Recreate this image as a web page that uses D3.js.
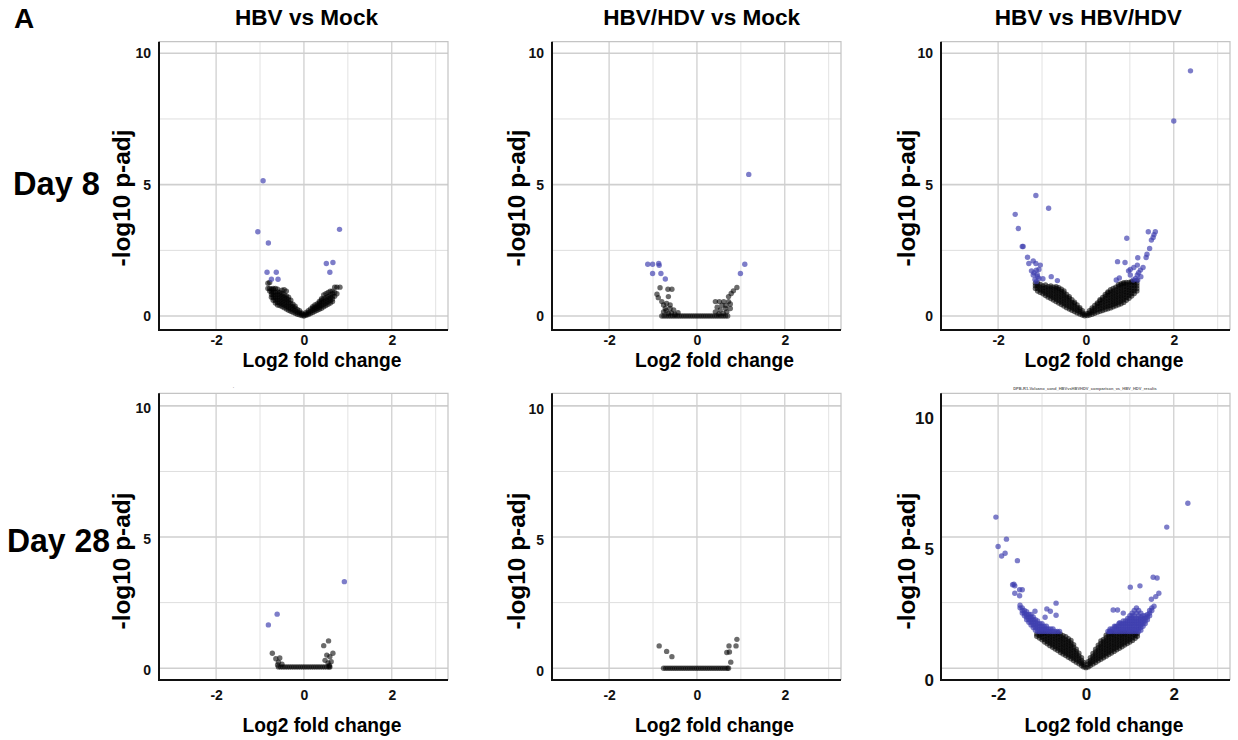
<!DOCTYPE html>
<html lang="en">
<head>
  <meta charset="UTF-8">
  <title>Volcano plots, Day 8 / Day 28</title>
  <style>
    body { margin: 0; background: #fff; }
    text { font-family: "Liberation Sans", Arial, sans-serif; font-weight: bold; }
  </style>
</head>
<body>
  <svg id="svg" width="1238" height="740"></svg>

  <script src="https://d3js.org/d3.v7.min.js"></script>
  <script>
    const panelTitles = ['HBV vs Mock', 'HBV/HDV vs Mock', 'HBV vs HBV/HDV']
    const rowLabels = ['Day 8', 'Day 28']
    const xTicks = [-2, 0, 2]
    const yTicks = [0, 5, 10]
    const xGridMajor = [-2, 0, 2]
    const xGridMinor = [-1, 1, 3]
    const yGridMajor = [0, 5, 10]
    const yGridMinor = [2.5, 7.5]

    // each entry: [log2 fold change, [-log10 p-adj values at that fold change]]
    // Day 8, HBV vs Mock
    const d8HbvMockSig = [[-0.93,[5.15]],[-1.05,[3.21]],[-0.81,[2.78]],[-0.84,[1.67]],[-0.63,[1.67]],
      [-0.74,[1.40]],[-0.59,[1.40]],[0.81,[3.30]],[0.51,[2.00]],[0.66,[2.04]],[0.59,[1.67]]]
    const d8HbvMockNs = [[-0.82,[1.05,1.25]],[-0.78,[0.95,1.05,1.28]],[-0.74,[0.72,0.82,0.92,1.02]],
      [-0.70,[0.6,0.7,0.8,0.9,1.0,1.05]],[-0.65,[0.5,0.6,0.7,0.8,0.9,1.05]],[-0.60,[0.42,0.52,0.62,0.72,0.82,0.92,1.02]],
      [-0.55,[0.4,0.5,0.6,0.7,0.8,0.9]],[-0.50,[0.36,0.46,0.56,0.66,0.76,0.86,0.98]],[-0.45,[0.32,0.42,0.52,0.62,0.72,0.82,1.0]],
      [-0.40,[0.27,0.37,0.47,0.57,0.67,0.77,0.95]],[-0.35,[0.22,0.32,0.42,0.52,0.62,0.72]],[-0.30,[0.18,0.28,0.38,0.48,0.6]],
      [-0.25,[0.15,0.25,0.35,0.45]],[-0.20,[0.11,0.2,0.3,0.38]],[-0.15,[0.07,0.15,0.25]],[-0.10,[0.05,0.12,0.2]],
      [-0.05,[0.02,0.08,0.12]],[0,[0,0.05]],[0.05,[0.03,0.08,0.14]],[0.10,[0.06,0.12,0.2]],[0.15,[0.1,0.18,0.27]],
      [0.20,[0.14,0.22,0.3,0.36]],[0.25,[0.18,0.26,0.34,0.42]],[0.30,[0.22,0.3,0.38,0.46]],[0.35,[0.26,0.34,0.42,0.5,0.56]],
      [0.40,[0.3,0.4,0.5,0.6,0.66]],[0.45,[0.35,0.45,0.55,0.65,0.8]],[0.50,[0.4,0.5,0.6,0.7,0.85]],
      [0.55,[0.45,0.55,0.65,0.75,0.9]],[0.60,[0.5,0.6,0.7,0.8,0.95]],[0.65,[0.55,0.65,0.75,0.85,0.95]],
      [0.70,[0.75,0.9,1.1]],[0.75,[0.85,1.1]],[0.82,[1.1]]]

    // Day 8, HBV/HDV vs Mock
    const d8CoMockSig = [[1.18,[5.39]],[-1.12,[1.97]],[-1.01,[1.97,1.62]],[-0.87,[2.0]],[-0.86,[1.93]],
      [-0.82,[1.62]],[-0.72,[1.41]],[1.09,[1.97]],[0.99,[1.62]]]
    const d8CoMockNs = [[-0.91,[0.83]],[-0.88,[0.70]],[-0.84,[1.08]],[-0.80,[0.55]],[-0.76,[0.42,0.16]],
      [-0.72,[0.29]],[-0.70,[0.2]],[-0.69,[0.48]],[-0.66,[1.02]],[-0.65,[0.74,0.10]],[-0.61,[0.42,0.29]],
      [-0.58,[0.12]],[-0.57,[1.02]],[-0.53,[0.23]],[-0.50,[0.06]],[-0.43,[0.13]],
      [0.42,[0.55,0.16]],[0.46,[0.34]],[0.50,[0.08]],[0.51,[0.55]],[0.53,[0.23]],[0.57,[0.41]],[0.60,[0.1]],
      [0.61,[0.55]],[0.65,[0.29]],[0.66,[0.4]],[0.68,[0.16]],[0.72,[0.55,0.74]],[0.76,[0.46,0.29]],
      [0.78,[0.86]],[0.83,[0.96]],[0.91,[1.09]]]
    const d8CoMockFloor = [-0.80,-0.75,-0.70,-0.65,-0.60,-0.55,-0.50,-0.45,-0.40,-0.35,-0.30,-0.25,-0.20,-0.15,
      -0.10,-0.05,0,0.05,0.10,0.15,0.20,0.25,0.30,0.35,0.40,0.45,0.50,0.55,0.60,0.65,0.70]

    // Day 8, HBV vs HBV/HDV
    const d8HbvCoSig = [[2.38,[9.33]],[2.0,[7.42]],[-1.14,[4.59]],[-0.85,[4.10]],[-1.61,[3.87]],[-1.54,[3.33]],
      [-1.45,[2.65]],[-1.43,[2.65]],[-1.33,[2.24]],[-1.30,[2.0]],[-1.20,[2.1,1.56]],[-1.14,[2.0]],[-1.04,[1.94]],
      [-1.24,[1.72]],[-1.13,[1.75,1.31]],[-1.07,[1.77,1.43]],[-1.11,[1.58]],[-1.16,[1.39]],[-0.98,[1.42]],
      [-0.79,[1.5]],[-0.65,[1.35]],[-1.18,[1.65]],[-1.10,[1.5]],
      [0.93,[2.96]],[1.42,[3.21]],[1.58,[3.21]],[1.53,[2.99]],[1.49,[2.89]],[1.45,[2.57]],[1.39,[2.35]],
      [1.37,[2.23]],[1.18,[2.22,1.37]],[0.72,[2.07]],[0.89,[2.04]],[1.30,[1.85]],[1.17,[1.94,1.56]],[1.09,[1.85]],
      [1.01,[1.77,1.56]],[0.97,[1.72]],[1.24,[1.75]],[1.20,[1.65]],[1.13,[1.43]],[1.08,[1.37]],[0.76,[1.45]],
      [0.69,[1.37]],[1.55,[3.1]],[1.25,[1.5]]]
    const d8HbvCoNs = [[-1.15,[1.05,1.15,1.25]],[-1.10,[0.95,1.05,1.15,1.25]],[-1.04,[0.9,1.0,1.1,1.2]],
      [-0.98,[0.85,0.95,1.05,1.15]],[-0.92,[0.78,0.88,0.98,1.08,1.18]],[-0.86,[0.72,0.82,0.92,1.02,1.12]],
      [-0.80,[0.67,0.77,0.87,0.97,1.07,1.15]],[-0.74,[0.61,0.71,0.81,0.91,1.01,1.1]],
      [-0.68,[0.55,0.65,0.75,0.85,0.95,1.05,1.12]],[-0.62,[0.5,0.6,0.7,0.8,0.9,1.0,1.08]],
      [-0.56,[0.44,0.54,0.64,0.74,0.84,0.94,1.02]],[-0.50,[0.38,0.48,0.58,0.68,0.78,0.88,0.96]],
      [-0.44,[0.32,0.42,0.52,0.62,0.72,0.82]],[-0.38,[0.27,0.37,0.47,0.57,0.67,0.74]],
      [-0.32,[0.22,0.32,0.42,0.52,0.62]],[-0.26,[0.17,0.27,0.37,0.47,0.53]],[-0.20,[0.12,0.22,0.32,0.42]],
      [-0.14,[0.08,0.17,0.26,0.32]],[-0.08,[0.04,0.12,0.2]],[-0.03,[0.01,0.07]],
      [0.03,[0.02,0.1]],[0.08,[0.04,0.12,0.2]],[0.14,[0.07,0.15,0.23,0.31]],[0.20,[0.11,0.2,0.3,0.4]],
      [0.26,[0.15,0.25,0.35,0.45,0.5]],[0.32,[0.18,0.28,0.38,0.48,0.58,0.62]],[0.38,[0.21,0.31,0.41,0.51,0.61,0.71]],
      [0.44,[0.25,0.35,0.45,0.55,0.65,0.75,0.82]],[0.50,[0.28,0.38,0.48,0.58,0.68,0.78,0.88,0.92]],
      [0.56,[0.31,0.41,0.51,0.61,0.71,0.81,0.91,1.0]],[0.62,[0.35,0.45,0.55,0.65,0.75,0.85,0.95,1.05]],
      [0.68,[0.39,0.49,0.59,0.69,0.79,0.89,0.99,1.1]],[0.74,[0.43,0.53,0.63,0.73,0.83,0.93,1.03,1.13,1.2]],
      [0.80,[0.47,0.57,0.67,0.77,0.87,0.97,1.07,1.17,1.23]],[0.86,[0.52,0.62,0.72,0.82,0.92,1.02,1.12,1.22,1.27]],
      [0.92,[0.6,0.7,0.8,0.9,1.0,1.1,1.2,1.28]],[0.98,[0.68,0.78,0.88,0.98,1.08,1.18,1.28]],
      [1.04,[0.76,0.86,0.96,1.06,1.16,1.26,1.32]],[1.10,[0.86,0.96,1.06,1.16,1.26,1.33]],
      [1.16,[0.95,1.05,1.15,1.25,1.35]]]

    // Day 28, HBV vs Mock
    const d28HbvMockSig = [[0.92,[3.30]],[-0.61,[2.06]],[-0.81,[1.65]]]
    const d28HbvMockNs = [[0.56,[1.04]],[0.45,[0.86]],[0.66,[0.57]],[0.59,[0.44]],[0.52,[0.5]],[0.48,[0.3]],
      [0.55,[0.2]],[0.62,[0.25]],[0.58,[0.1]],[-0.72,[0.57]],[-0.64,[0.36]],[-0.55,[0.39]],[-0.58,[0.23]],
      [-0.60,[0.12]],[-0.50,[0.15]]]
    const d28HbvMockFloor = [-0.58,-0.53,-0.48,-0.43,-0.38,-0.33,-0.28,-0.23,-0.18,-0.13,-0.08,-0.03,0.02,
      0.07,0.12,0.17,0.22,0.27,0.32,0.37,0.42,0.47,0.52,0.57,0.59]

    // Day 28, HBV/HDV vs Mock
    const d28CoMockSig = []
    const d28CoMockNs = [[-0.86,[0.85]],[-0.69,[0.64]],[-0.57,[0.44]],[0.91,[1.1]],[0.89,[0.85]],
      [0.73,[0.85]],[0.68,[0.6]],[0.74,[0.62]],[0.77,[0.23]]]
    const d28CoMockFloor = [-0.76,-0.71,-0.66,-0.61,-0.56,-0.51,-0.46,-0.41,-0.36,-0.31,-0.26,-0.21,-0.16,
      -0.11,-0.06,-0.01,0.04,0.09,0.14,0.19,0.24,0.29,0.34,0.39,0.44,0.49,0.54,0.59,0.64,0.69,0.72]

    // Day 28, HBV vs HBV/HDV
    const d28HbvCoSig = [[-2.05,[5.76]],[-1.81,[4.92]],[-2.0,[4.64]],[-1.92,[4.28]],[-1.84,[4.38]],[-1.56,[4.10]],
      [-1.67,[3.18]],[-1.62,[3.14,2.86]],[-1.64,[3.2]],[-1.51,[2.99,2.76]],[-1.45,[2.99]],[-0.68,[2.48,2.02]],
      [-0.89,[2.26]],[-0.81,[2.17]],[-0.93,[1.94]],[-1.16,[2.17]],
      [-1.50,[2.3,2.4]],[-1.45,[2.1,2.2,2.3]],[-1.40,[2.0,2.1,2.2]],[-1.35,[1.85,1.95,2.05,2.15]],
      [-1.30,[1.75,1.85,1.95,2.05]],[-1.25,[1.65,1.75,1.85,1.95,2.05]],[-1.20,[1.55,1.65,1.75,1.85,1.95]],
      [-1.15,[1.45,1.55,1.65,1.75,1.85]],[-1.10,[1.4,1.5,1.6,1.7,1.8]],[-1.05,[1.4,1.5,1.6,1.7]],
      [-1.00,[1.4,1.5,1.6,1.7]],[-0.95,[1.4,1.5,1.6]],[-0.90,[1.4,1.5,1.6]],[-0.85,[1.4,1.5]],
      [-0.80,[1.4,1.5]],[-0.75,[1.4,1.5]],[-0.70,[1.4]],[-0.65,[1.4]],[-0.60,[1.4]],
      [2.32,[6.29]],[1.84,[5.38]],[1.53,[3.47]],[1.62,[3.44]],[1.01,[3.09]],[1.23,[3.14]],[1.66,[2.86]],
      [1.59,[2.73]],[1.49,[2.63]],[0.62,[2.22]],[0.72,[2.22]],[0.85,[2.1]],[0.77,[1.73]],[0.67,[1.58]],
      [0.54,[1.42]],[1.55,[2.36]],
      [0.50,[1.4]],[0.55,[1.4,1.5]],[0.60,[1.4,1.5]],[0.65,[1.4,1.5,1.6]],[0.70,[1.4,1.5,1.6]],
      [0.75,[1.4,1.5,1.6,1.7]],[0.80,[1.4,1.5,1.6,1.7]],[0.85,[1.4,1.5,1.6,1.7,1.8]],[0.90,[1.4,1.5,1.6,1.7,1.8]],
      [0.95,[1.4,1.5,1.6,1.7,1.8,1.9]],[1.00,[1.4,1.5,1.6,1.7,1.8,1.9,2.0]],[1.05,[1.4,1.5,1.6,1.7,1.8,1.9,2.0,2.1]],
      [1.10,[1.4,1.5,1.6,1.7,1.8,1.9,2.0,2.2]],[1.15,[1.4,1.5,1.6,1.7,1.8,1.9,2.1,2.3]],
      [1.20,[1.4,1.5,1.6,1.7,1.8,1.9,2.0,2.2]],[1.25,[1.45,1.55,1.65,1.75,1.85,1.95,2.1]],
      [1.30,[1.6,1.7,1.8,1.9,2.0]],[1.35,[1.7,1.8,1.9,2.0]],[1.40,[1.85,1.95,2.05]],[1.45,[2.0,2.1,2.2]],
      [1.50,[2.2,2.3]]]
    const d28HbvCoNs = [[-1.12,[1.22,1.3]],[-1.06,[1.15,1.25,1.33]],[-1.00,[1.08,1.18,1.28,1.35]],
      [-0.94,[1.0,1.1,1.2,1.3,1.35]],[-0.88,[0.93,1.03,1.13,1.23,1.33]],[-0.82,[0.86,0.96,1.06,1.16,1.26,1.35]],
      [-0.76,[0.8,0.9,1.0,1.1,1.2,1.3]],[-0.70,[0.73,0.83,0.93,1.03,1.13,1.23,1.33]],
      [-0.64,[0.67,0.77,0.87,0.97,1.07,1.17,1.27,1.35]],[-0.58,[0.6,0.7,0.8,0.9,1.0,1.1,1.2,1.3]],
      [-0.52,[0.54,0.64,0.74,0.84,0.94,1.04,1.14,1.24]],[-0.46,[0.48,0.58,0.68,0.78,0.88,0.98,1.08,1.2]],
      [-0.40,[0.42,0.52,0.62,0.72,0.82,0.92,1.02,1.12]],[-0.34,[0.36,0.46,0.56,0.66,0.76,0.86,0.96,1.06]],
      [-0.28,[0.29,0.39,0.49,0.59,0.69,0.8,0.9]],[-0.22,[0.23,0.33,0.43,0.53,0.63,0.72]],
      [-0.16,[0.17,0.27,0.37,0.47,0.57]],[-0.10,[0.1,0.2,0.3,0.4]],[-0.05,[0.05,0.13,0.22]],[0,[0.02]],
      [0.05,[0.05,0.15,0.25]],[0.10,[0.1,0.2,0.3,0.4]],[0.16,[0.16,0.26,0.36,0.46,0.56]],
      [0.22,[0.22,0.32,0.42,0.52,0.62,0.72]],[0.28,[0.28,0.38,0.48,0.58,0.68,0.78,0.88]],
      [0.34,[0.34,0.44,0.54,0.64,0.74,0.84,0.94,1.04]],[0.40,[0.4,0.5,0.6,0.7,0.8,0.9,1.0,1.1]],
      [0.46,[0.46,0.56,0.66,0.76,0.86,0.96,1.06,1.16,1.26]],[0.52,[0.52,0.62,0.72,0.82,0.92,1.02,1.12,1.22,1.32]],
      [0.58,[0.58,0.68,0.78,0.88,0.98,1.08,1.18,1.28,1.35]],[0.64,[0.64,0.74,0.84,0.94,1.04,1.14,1.24,1.34]],
      [0.70,[0.7,0.8,0.9,1.0,1.1,1.2,1.3]],[0.76,[0.76,0.86,0.96,1.06,1.16,1.26,1.35]],
      [0.82,[0.82,0.92,1.02,1.12,1.22,1.32]],[0.88,[0.88,0.98,1.08,1.18,1.28,1.35]],
      [0.94,[0.94,1.04,1.14,1.24,1.34]],[1.00,[1.0,1.1,1.2,1.3]],[1.06,[1.06,1.16,1.26,1.35]],
      [1.12,[1.14,1.24,1.33]],[1.17,[1.22,1.32]]]

    const flat = cols => cols.flatMap(([x, ys]) => ys.map(y => ({x, y})))

    // layout (pixels)
    const colLeft = [159, 552, 941]
    const plotW = 289
    const rows = [
      {top: 41.7, bottom: 330, yDomain: [-0.53, 10.44], tickPad: [5.5, 5.5, 5.5], titleBase: 367, yTitleY: 198},
      {top: 393.3, bottom: 680, yDomain: [-0.45, 10.48], tickPad: [10, 10, 8], titleBase: 732, yTitleY: 561}
    ]
    const titleCx = [306.5, 701.7, 1088.3]
    const titleW = [143, 197, 187]
    const xTitleCx = [322, 714.5, 1104]
    const yTitleX = [130, 525, 915]

    const panels = [
      {r: 0, c: 0, sig: d8HbvMockSig, ns: d8HbvMockNs, floor: [], fs: 14, shift: 0},
      {r: 0, c: 1, sig: d8CoMockSig, ns: d8CoMockNs, floor: d8CoMockFloor, floorY: 0, fs: 14, shift: 0},
      {r: 0, c: 2, sig: d8HbvCoSig, ns: d8HbvCoNs, floor: [], fs: 14, shift: 0},
      {r: 1, c: 0, sig: d28HbvMockSig, ns: d28HbvMockNs, floor: d28HbvMockFloor, floorY: 0.05, fs: 14, shift: 2},
      {r: 1, c: 1, sig: d28CoMockSig, ns: d28CoMockNs, floor: d28CoMockFloor, floorY: 0, fs: 14, shift: 3},
      {r: 1, c: 2, sig: d28HbvCoSig, ns: d28HbvCoNs, floor: [], fs: 17, shift: 12}
    ]

    const svg = d3.select('#svg')

    panels.forEach(p => {
      const row = rows[p.r]
      const L = colLeft[p.c]
      const R = L + plotW
      const x = d3.scaleLinear().domain([-3.3, 3.28]).range([L, R])
      const y = d3.scaleLinear().domain(row.yDomain).range([row.bottom, row.top])
      const g = svg.append('g')

      // grid
      g.selectAll('.vmin').data(xGridMinor).join('line')
        .attr('x1', d => x(d)).attr('x2', d => x(d)).attr('y1', row.top).attr('y2', row.bottom)
        .attr('stroke', '#e2e2e2').attr('stroke-width', 1)
      g.selectAll('.vmaj').data(xGridMajor).join('line')
        .attr('x1', d => x(d)).attr('x2', d => x(d)).attr('y1', row.top).attr('y2', row.bottom)
        .attr('stroke', '#cccccc').attr('stroke-width', 1.2)
      g.selectAll('.hmin').data(yGridMinor).join('line')
        .attr('x1', L).attr('x2', R).attr('y1', d => y(d)).attr('y2', d => y(d))
        .attr('stroke', '#dedede').attr('stroke-width', 1)
      g.selectAll('.hmaj').data(yGridMajor).join('line')
        .attr('x1', L).attr('x2', R).attr('y1', d => y(d)).attr('y2', d => y(d))
        .attr('stroke', '#cfcfcf').attr('stroke-width', 1.6)

      // panel border (top, right)
      g.append('path')
        .attr('d', `M${L},${row.top}H${R}V${row.bottom}`)
        .attr('fill', 'none').attr('stroke', '#c4c4c4').attr('stroke-width', 1.2)

      // points
      const nsPts = flat(p.ns).concat(p.floor.map(v => ({x: v, y: p.floorY})))
      g.append('g').selectAll('circle').data(nsPts).join('circle')
        .attr('cx', d => x(d.x)).attr('cy', d => y(d.y)).attr('r', 2.7)
        .attr('fill', '#000').attr('fill-opacity', 0.58)
      g.append('g').selectAll('circle').data(flat(p.sig)).join('circle')
        .attr('cx', d => x(d.x)).attr('cy', d => y(d.y)).attr('r', 2.7)
        .attr('fill', '#3f3fb0').attr('fill-opacity', 0.68)

      // axis lines
      g.append('path')
        .attr('d', `M${L},${row.top}V${row.bottom}H${R}`)
        .attr('fill', 'none').attr('stroke', '#111').attr('stroke-width', 2)

      // tick labels (plain hyphen minus, as in the figure)
      const fmt = d => String(d)
      const styleAxis = a => {
        a.select('.domain').remove()
        a.selectAll('line').remove()
        a.attr('font-family', '"Liberation Sans", Arial, sans-serif')
          .attr('font-size', p.fs).attr('font-weight', 'bold')
        a.selectAll('text').attr('fill', '#111')
      }
      g.append('g')
        .attr('transform', `translate(${L},${p.shift})`)
        .call(d3.axisLeft(y).tickValues(yTicks).tickFormat(fmt).tickSize(0).tickPadding(p.fs > 14 ? 7 : 8))
        .call(styleAxis)
      g.append('g')
        .attr('transform', `translate(0,${row.bottom})`)
        .call(d3.axisBottom(x).tickValues(xTicks).tickFormat(fmt).tickSize(0).tickPadding(row.tickPad[p.c]))
        .call(styleAxis)

      // titles
      if (p.r === 0) {
        g.append('text')
          .attr('x', titleCx[p.c]).attr('y', 25).attr('text-anchor', 'middle')
          .attr('font-size', 22).attr('textLength', titleW[p.c]).attr('lengthAdjust', 'spacingAndGlyphs')
          .text(panelTitles[p.c])
      }
      g.append('text')
        .attr('x', xTitleCx[p.c]).attr('y', row.titleBase).attr('text-anchor', 'middle')
        .attr('font-size', 21).attr('textLength', 159).attr('lengthAdjust', 'spacingAndGlyphs')
        .text('Log2 fold change')
      g.append('text')
        .attr('transform', `translate(${yTitleX[p.c]},${row.yTitleY}) rotate(-90)`)
        .attr('text-anchor', 'middle')
        .attr('font-size', 23).attr('textLength', 137).attr('lengthAdjust', 'spacingAndGlyphs')
        .text('-log10 p-adj')
    })

    // panel letter and row labels
    svg.append('text').attr('x', 14).attr('y', 28).attr('font-size', 28).text('A')
    svg.append('text').attr('x', 13).attr('y', 195).attr('font-size', 34)
      .attr('textLength', 87).attr('lengthAdjust', 'spacingAndGlyphs').text(rowLabels[0])
    svg.append('text').attr('x', 7).attr('y', 552).attr('font-size', 34)
      .attr('textLength', 103).attr('lengthAdjust', 'spacingAndGlyphs').text(rowLabels[1])

    // leftover tiny captions above the lower panels
    svg.append('text').attr('x', 233).attr('y', 390).attr('font-size', 4)
      .attr('font-weight', 'normal').attr('fill', '#999').text("'")
    svg.append('text').attr('x', 1085).attr('y', 390).attr('font-size', 4).attr('text-anchor', 'middle')
      .attr('font-weight', 'normal').attr('fill', '#666')
      .text('DPB-R1-Volcano_cond_HBVvsHBVHDV_comparison_vs_HBV_HDV_results')
  </script>
</body>
</html>
